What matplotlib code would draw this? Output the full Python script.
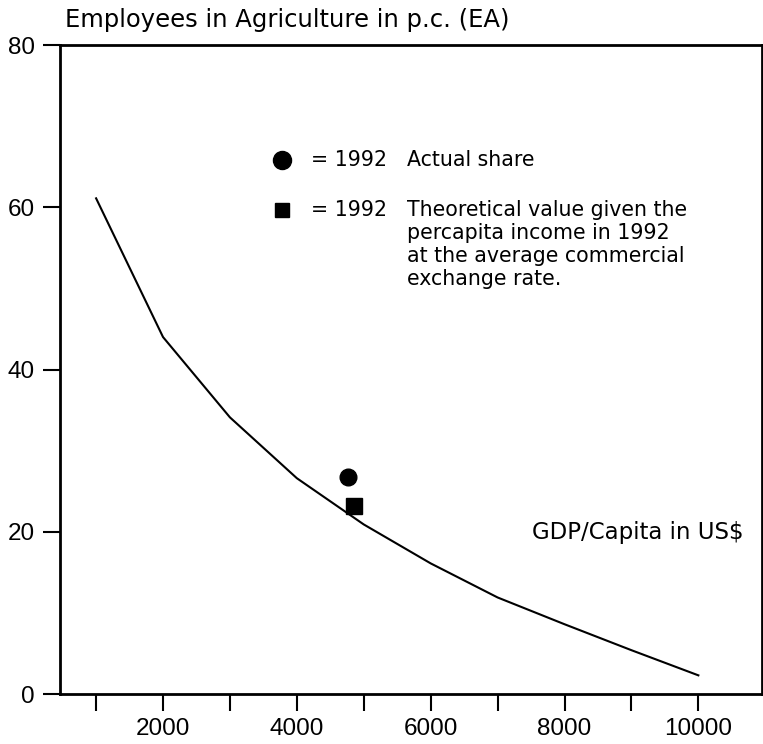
import matplotlib
matplotlib.use("Agg")
import matplotlib.pyplot as plt

# theoretical curve: share of employees in agriculture vs GDP per capita
gdp = [1000, 2000, 3000, 4000, 5000, 6000, 7000, 8000, 9000, 10000]
share = [61.1, 44.0, 34.1, 26.6, 20.9, 16.1, 11.9, 8.6, 5.4, 2.3]

# 1992 points
actual_x, actual_y = [4770], [26.8]
theory_x, theory_y = [4860], [23.2]

x_ticks = [2000, 4000, 6000, 8000, 10000]
x_minor = [1000, 3000, 5000, 7000, 9000]
y_ticks = [0, 20, 40, 60, 80]

key_lines = [
    "Theoretical value given the",
    "percapita income in 1992",
    "at the average commercial",
    "exchange rate.",
]

fig = plt.figure(figsize=(7.63, 7.44), dpi=100)
ax = fig.add_axes([0.0786, 0.0672, 0.92, 0.8723])

ax.plot(gdp, share, color="black", lw=1.5)
ax.plot(actual_x, actual_y, "o", color="black", ms=12)
ax.plot(theory_x, theory_y, "s", color="black", ms=11)

ax.set_xlim(460, 10950)
ax.set_ylim(0, 80)
ax.set_xticks(x_ticks)
ax.set_xticks(x_minor, minor=True)
ax.set_yticks(y_ticks)

for s in ax.spines.values():
    s.set_linewidth(2)

ax.tick_params(axis="x", which="both", direction="out", length=12, width=1.5, pad=5)
ax.tick_params(axis="y", which="both", direction="out", length=12, width=1.5, pad=6)
for lab in ax.get_xticklabels() + ax.get_yticklabels():
    lab.set_fontfamily("Liberation Sans")
    lab.set_fontsize(17.5)

# title / axis captions
fig.text(65 / 763, 1 - 20 / 744, "Employees in Agriculture in p.c. (EA)",
         fontsize=17.5, family="DejaVu Sans", va="center", ha="left")
ax.text(0.672, (694 - 532) / 649, "GDP/Capita in US$", transform=ax.transAxes,
        fontsize=16.5, family="DejaVu Sans", va="center", ha="left")

# key
ax.plot([0.316], [0.823], "o", color="black", ms=13, transform=ax.transAxes, clip_on=False)
ax.plot([0.316], [0.746], "s", color="black", ms=9.5, transform=ax.transAxes, clip_on=False)
kw = dict(transform=ax.transAxes, fontsize=14.8, family="DejaVu Sans", va="center", ha="left")
ax.text(0.357, 0.823, "= 1992", **kw)
ax.text(0.494, 0.823, "Actual share", **kw)
ax.text(0.357, 0.746, "= 1992", **kw)
for i, line in enumerate(key_lines):
    ax.text(0.494, 0.746 - i * 23 / 649, line, **kw)

fig.savefig("out.png", dpi=100)
